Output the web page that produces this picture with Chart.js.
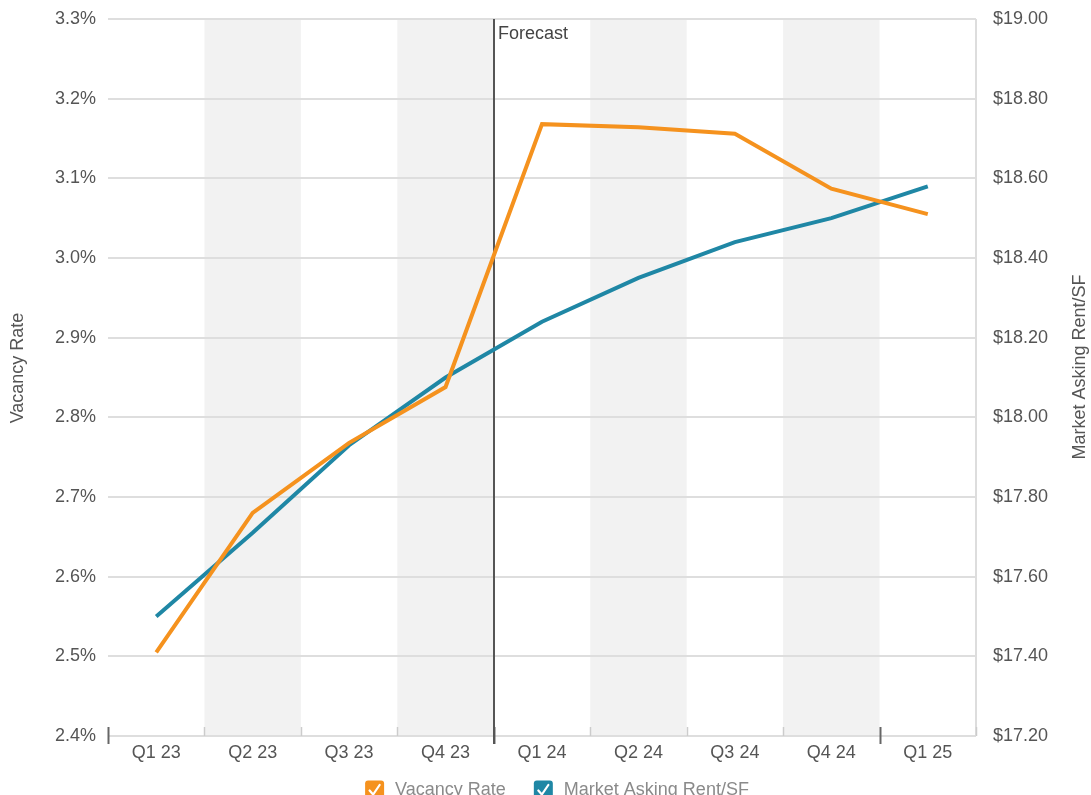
<!DOCTYPE html>
<html>
<head>
<meta charset="utf-8">
<title>Vacancy Rate and Market Asking Rent/SF</title>
<script src="https://cdn.jsdelivr.net/npm/chart.js@4.4.1/dist/chart.umd.min.js"></script>
<style>
  html, body { margin: 0; padding: 0; background: #ffffff; }
  #wrap { position: relative; width: 1091px; height: 795px; }
</style>
</head>
<body>
<div id="wrap"><canvas id="chart" width="1091" height="795"></canvas></div>
<script>
// Quarterly periods (forecast starts at Q1 24)
const quarters = ['Q1 23', 'Q2 23', 'Q3 23', 'Q4 23', 'Q1 24', 'Q2 24', 'Q3 24', 'Q4 24', 'Q1 25'];
// Vacancy rate, percent
const vacancyRate = [2.505, 2.680, 2.768, 2.838, 3.168, 3.164, 3.156, 3.087, 3.055];
// Market asking rent, dollars per square foot
const askingRent = [17.50, 17.71, 17.93, 18.10, 18.24, 18.35, 18.44, 18.50, 18.58];
// Axis ranges and steps
const vacancyTicks = { min: 2.4, max: 3.3, step: 0.1 };
const rentTicks = { min: 17.2, max: 19.0, step: 0.2 };
const forecastStart = 'Q1 24';
const seriesNames = ['Vacancy Rate', 'Market Asking Rent/SF'];
const axisTitles = ['Vacancy Rate', 'Market Asking Rent/SF'];

const ORANGE = '#f5921e';
const TEAL = '#1f87a5';
const FONT = '"Liberation Sans", Arial, Helvetica, sans-serif';
const TICK_COLOR = '#555555';

// Shaded quarter bands, forecast divider, year ticks, titles and legend
const decorations = {
  id: 'decorations',
  beforeDraw(chart) {
    const { ctx, chartArea: a, scales: { x } } = chart;
    const half = (x.getPixelForValue(1) - x.getPixelForValue(0)) / 2;
    ctx.save();
    ctx.fillStyle = '#f2f2f2';
    quarters.forEach((q, i) => {
      if (i % 2 === 1) {
        const c = x.getPixelForValue(i);
        ctx.fillRect(c - half, a.top, half * 2, a.bottom - a.top);
      }
    });
    ctx.restore();
  },
  beforeDatasetsDraw(chart) {
    const { ctx, chartArea: a, scales: { x } } = chart;
    const half = (x.getPixelForValue(1) - x.getPixelForValue(0)) / 2;
    ctx.save();
    // right frame line
    ctx.strokeStyle = '#dddddd';
    ctx.lineWidth = 2;
    ctx.beginPath();
    ctx.moveTo(a.right, a.top);
    ctx.lineTo(a.right, a.bottom);
    ctx.stroke();
    // quarter boundary ticks
    for (let i = 0; i <= quarters.length; i++) {
      const bx = Math.round(x.getPixelForValue(i) - half) + 0.5;
      const yearEdge = i === 0 || i === quarters.length || quarters[i].startsWith('Q1');
      if (yearEdge && i !== quarters.length) {
        ctx.strokeStyle = '#666666';
        ctx.lineWidth = 2;
        ctx.beginPath();
        ctx.moveTo(bx, a.bottom - 9);
        ctx.lineTo(bx, a.bottom + 8);
        ctx.stroke();
      } else {
        ctx.strokeStyle = '#cccccc';
        ctx.lineWidth = 1.5;
        ctx.beginPath();
        ctx.moveTo(bx, a.bottom - 9);
        ctx.lineTo(bx, a.bottom);
        ctx.stroke();
      }
    }
    // forecast divider
    const fi = quarters.indexOf(forecastStart);
    const fx = Math.round(x.getPixelForValue(fi) - half);
    ctx.strokeStyle = '#555555';
    ctx.lineWidth = 2;
    ctx.beginPath();
    ctx.moveTo(fx, a.top);
    ctx.lineTo(fx, a.bottom + 8);
    ctx.stroke();
    ctx.fillStyle = '#444444';
    ctx.font = '18px ' + FONT;
    ctx.textAlign = 'left';
    ctx.textBaseline = 'middle';
    ctx.fillText('Forecast', fx + 4, a.top + 15);
    ctx.restore();
  },
  afterDraw(chart) {
    const { ctx } = chart;
    ctx.save();
    ctx.font = '18px ' + FONT;
    ctx.fillStyle = '#555555';
    ctx.textAlign = 'center';
    ctx.textBaseline = 'middle';
    // left axis title
    ctx.save();
    ctx.translate(18, 368);
    ctx.rotate(-Math.PI / 2);
    ctx.fillText(axisTitles[0], 0, 0);
    ctx.restore();
    // right axis title
    ctx.save();
    ctx.translate(1080, 367);
    ctx.rotate(-Math.PI / 2);
    ctx.fillText(axisTitles[1], 0, 0);
    ctx.restore();

    // legend with check boxes
    const items = chart.data.datasets.map(d => ({ label: d.label, color: d.borderColor }));
    const box = 19, gap = 11, between = 28;
    const widths = items.map(it => box + gap + ctx.measureText(it.label).width);
    const total = widths.reduce((s, w) => s + w, 0) + between * (items.length - 1);
    let lx = 557 - total / 2;
    const ly = 790;
    items.forEach((it, i) => {
      const top = ly - box / 2;
      ctx.fillStyle = it.color;
      ctx.beginPath();
      ctx.roundRect(lx, top, box, box, 3);
      ctx.fill();
      ctx.strokeStyle = '#ffffff';
      ctx.lineWidth = 2.2;
      ctx.lineCap = 'round';
      ctx.lineJoin = 'round';
      ctx.beginPath();
      ctx.moveTo(lx + 4.5, top + 10);
      ctx.lineTo(lx + 8, top + 14);
      ctx.lineTo(lx + 14.5, top + 4.5);
      ctx.stroke();
      ctx.fillStyle = '#8a8a8a';
      ctx.textAlign = 'left';
      ctx.fillText(it.label, lx + box + gap, ly);
      lx += widths[i] + between;
    });
    ctx.restore();
  }
};

// keeps the value axes from pushing the plot area down for their top label
function fixValueAxis(width) {
  return function (axis) {
    axis.width = width;
    axis.paddingTop = 0;
    axis.paddingBottom = 0;
  };
}

new Chart(document.getElementById('chart'), {
  type: 'line',
  data: {
    labels: quarters,
    datasets: [
      {
        label: seriesNames[0],
        data: vacancyRate,
        yAxisID: 'yVac',
        borderColor: ORANGE,
        backgroundColor: ORANGE,
        borderWidth: 4,
        pointRadius: 0,
        tension: 0,
        fill: false
      },
      {
        label: seriesNames[1],
        data: askingRent,
        yAxisID: 'yRent',
        borderColor: TEAL,
        backgroundColor: TEAL,
        borderWidth: 4,
        pointRadius: 0,
        tension: 0,
        fill: false
      }
    ]
  },
  options: {
    responsive: false,
    animation: false,
    layout: { padding: { top: 19, left: 0, right: 0, bottom: 0 } },
    plugins: {
      legend: { display: false },
      tooltip: { enabled: false }
    },
    scales: {
      x: {
        offset: true,
        grid: { display: false, drawTicks: false },
        border: { display: false },
        ticks: { color: TICK_COLOR, font: { family: FONT, size: 18 }, padding: 6, maxRotation: 0 },
        afterFit(axis) { axis.height = 59; }
      },
      yVac: {
        position: 'left',
        min: vacancyTicks.min,
        max: vacancyTicks.max,
        grid: { color: '#dedede', lineWidth: 2, drawTicks: false },
        border: { display: false },
        ticks: {
          stepSize: vacancyTicks.step,
          color: TICK_COLOR,
          font: { family: FONT, size: 18 },
          padding: 12,
          callback: v => v.toFixed(1) + '%'
        },
        afterFit: fixValueAxis(108)
      },
      yRent: {
        position: 'right',
        min: rentTicks.min,
        max: rentTicks.max,
        grid: { display: false, drawOnChartArea: false },
        border: { display: false },
        ticks: {
          stepSize: rentTicks.step,
          color: TICK_COLOR,
          font: { family: FONT, size: 18 },
          padding: 9,
          callback: v => '$' + v.toFixed(2)
        },
        afterFit: fixValueAxis(115)
      }
    }
  },
  plugins: [decorations]
});
</script>
</body>
</html>
